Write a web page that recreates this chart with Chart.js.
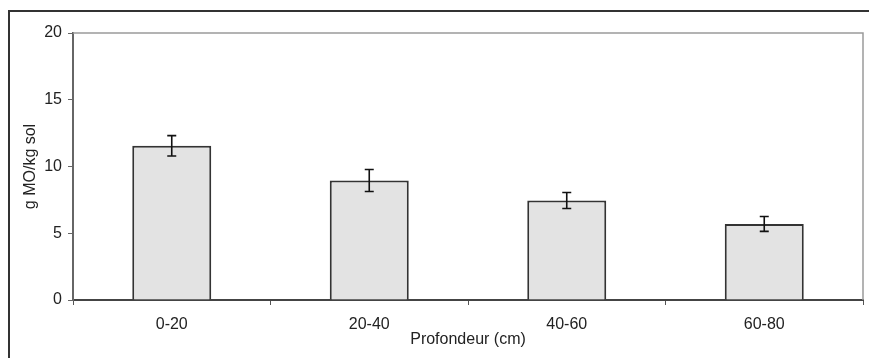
<!DOCTYPE html>
<html>
<head>
<meta charset="utf-8">
<script src="https://cdn.jsdelivr.net/npm/chart.js@4.4.1/dist/chart.umd.min.js"></script>
<style>
  html, body { margin: 0; padding: 0; background: #fff; }
  #wrap { width: 869px; height: 358px; }
</style>
</head>
<body>
<div id="wrap"><canvas id="c" width="869" height="358"></canvas></div>
<script>
const categories = ["0-20", "20-40", "40-60", "60-80"];
const values = [11.55, 8.95, 7.45, 5.7];
const errors = [0.76, 0.82, 0.6, 0.56];
const yTitle = "g MO/kg sol";
const xTitle = "Profondeur (cm)";

const FONT = "'Liberation Sans', Arial, sans-serif";

const framePlugin = {
  id: 'frame',
  beforeDraw(chart) {
    const ctx = chart.ctx;
    ctx.save();
    ctx.fillStyle = '#fff';
    ctx.fillRect(0, 0, chart.width, chart.height);
    ctx.fillStyle = '#333';
    ctx.fillRect(8, 10, chart.width - 8, 2);
    ctx.fillRect(8, 10, 2, chart.height - 10);
    ctx.restore();
  },
  beforeDatasetsDraw(chart) {
    const ctx = chart.ctx, a = chart.chartArea;
    ctx.save();
    ctx.strokeStyle = '#9a9a9a';
    ctx.lineWidth = 1.5;
    ctx.beginPath();
    ctx.moveTo(a.left, a.top);
    ctx.lineTo(a.right, a.top);
    ctx.lineTo(a.right, a.bottom);
    ctx.stroke();
    ctx.restore();
  }
};

const errorBarPlugin = {
  id: 'errorBars',
  afterDatasetsDraw(chart) {
    const ctx = chart.ctx;
    const meta = chart.getDatasetMeta(0);
    const ys = chart.scales.y;
    ctx.save();
    ctx.strokeStyle = '#111';
    ctx.lineWidth = 1.6;
    meta.data.forEach((bar, i) => {
      const x = bar.x;
      const yT = ys.getPixelForValue(values[i] + errors[i]);
      const yB = ys.getPixelForValue(values[i] - errors[i]);
      ctx.beginPath();
      ctx.moveTo(x, yT); ctx.lineTo(x, yB);
      ctx.moveTo(x - 4.5, yT); ctx.lineTo(x + 4.5, yT);
      ctx.moveTo(x - 4.5, yB); ctx.lineTo(x + 4.5, yB);
      ctx.stroke();
    });
    ctx.restore();
  }
};

new Chart(document.getElementById('c'), {
  type: 'bar',
  data: {
    labels: categories,
    datasets: [{
      data: values,
      backgroundColor: '#e3e3e3',
      borderColor: '#333',
      borderWidth: 2,
      barPercentage: 0.4,
      categoryPercentage: 1.0
    }]
  },
  options: {
    responsive: false,
    animation: false,
    devicePixelRatio: 1,
    layout: { padding: { top: 33, right: 6, left: 0, bottom: 0 } },
    plugins: { legend: { display: false }, tooltip: { enabled: false } },
    scales: {
      x: {
        offset: true,
        afterFit(scale) { scale.height = 58; },
        grid: { offset: true, drawOnChartArea: false, drawTicks: true, tickLength: 5, color: '#555', lineWidth: 1 },
        border: { display: true, color: '#444', width: 2 },
        ticks: { color: '#222', font: { family: FONT, size: 16 }, padding: 10 },
        title: { display: true, text: xTitle, color: '#222', font: { family: FONT, size: 16 }, padding: { top: 0, bottom: 9 } }
      },
      y: {
        min: 0, max: 20,
        afterFit(scale) { scale.width = 73; },
        grid: { drawOnChartArea: false, drawTicks: true, tickLength: 5, color: '#666', lineWidth: 1 },
        border: { display: true, color: '#666', width: 2 },
        ticks: { stepSize: 5, color: '#222', font: { family: FONT, size: 16 }, padding: 6 },
        title: { display: true, text: yTitle, color: '#222', font: { family: FONT, size: 16 }, padding: { top: 21, bottom: 0 } }
      }
    }
  },
  plugins: [framePlugin, errorBarPlugin]
});
</script>
</body>
</html>
